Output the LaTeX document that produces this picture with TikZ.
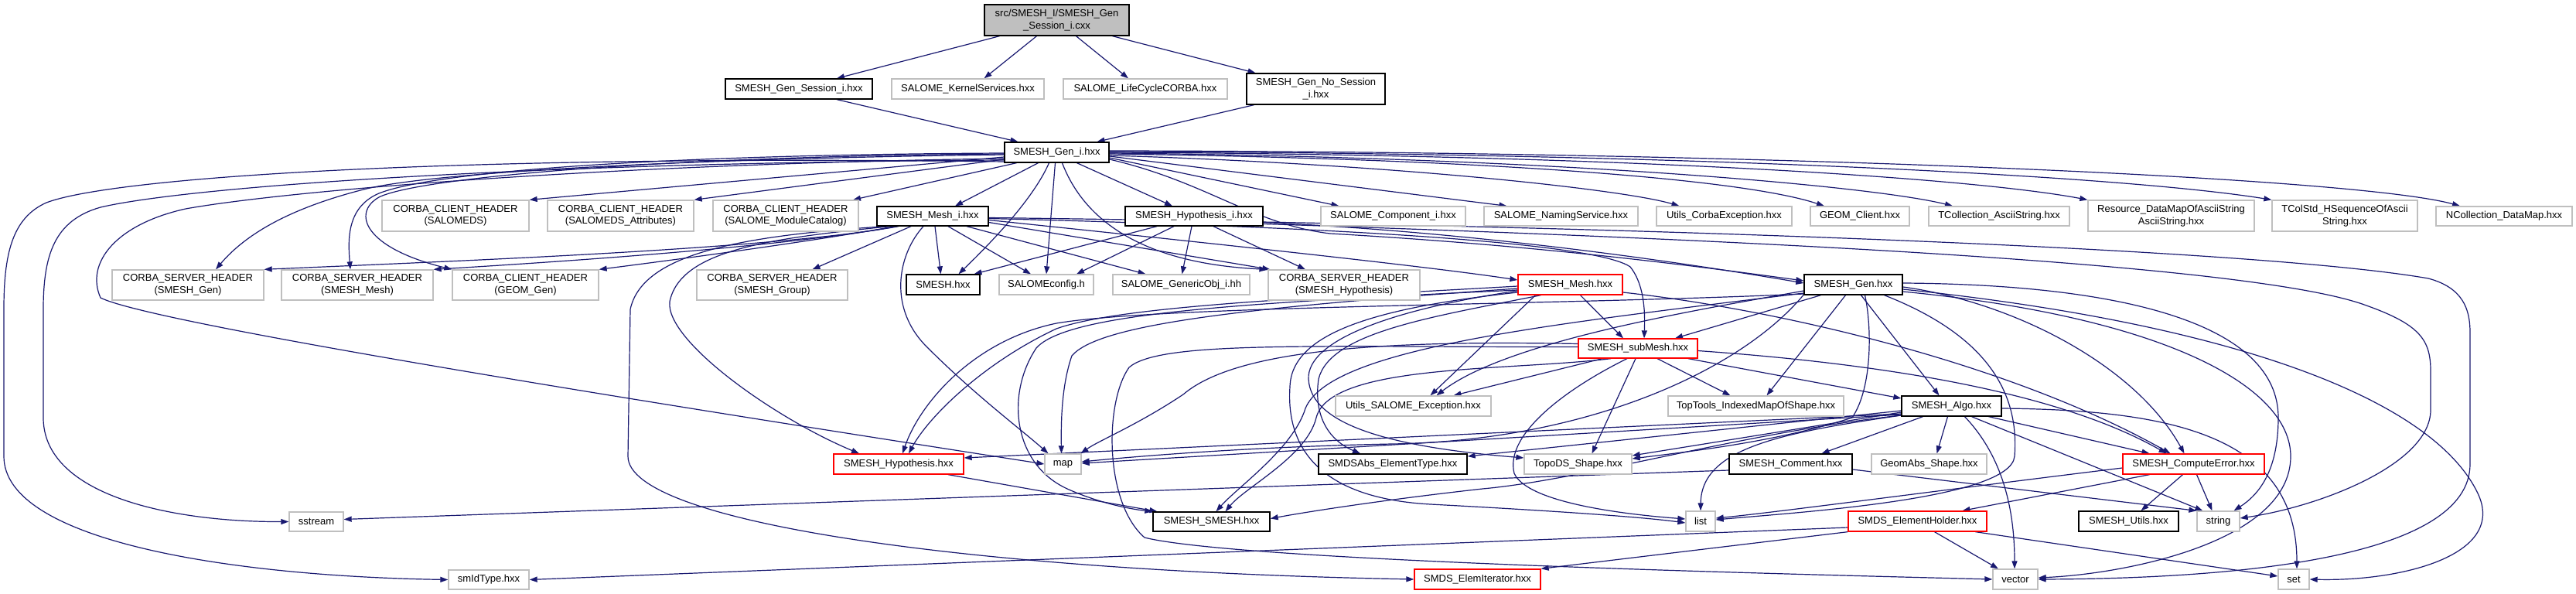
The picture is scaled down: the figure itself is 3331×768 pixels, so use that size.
\documentclass[tikz,border=0pt]{standalone}
\usepackage{fontspec}
\setmainfont{Liberation Sans}
\usetikzlibrary{arrows.meta}
\definecolor{edgec}{HTML}{191970}
\definecolor{greyb}{HTML}{BFBFBF}
\definecolor{rootfill}{HTML}{BFBFBF}
\pgfdeclarelayer{background}
\pgfsetlayers{background,main}
\begin{document}
\begin{tikzpicture}[x=1pt,y=-1pt,
  nd/.style={rectangle, inner sep=0pt, align=center, font=\fontsize{13}{15.5}\selectfont, line width=1.3pt, fill=white},
  doc/.style={nd, draw=black},
  und/.style={nd, draw=greyb},
  trunc/.style={nd, draw=red},
  e/.style={draw=edgec, line width=1.2pt, -{Triangle[length=10pt,width=7pt]}}]
\useasboundingbox (0,0) rectangle (3331,768);
% ---------------- nodes ----------------
\node[doc, fill=rootfill, minimum width=187pt, minimum height=40pt] (root) at (1366.5,26) {src/SMESH\_I/SMESH\_Gen\\\_Session\_i.cxx};
\node[doc, minimum width=190pt, minimum height=26pt] (gsess) at (1033,115) {SMESH\_Gen\_Session\_i.hxx};
\node[und, minimum width=197pt, minimum height=26pt] (kern) at (1251.5,115) {SALOME\_KernelServices.hxx};
\node[und, minimum width=212pt, minimum height=26pt] (life) at (1481,115) {SALOME\_LifeCycleCORBA.hxx};
\node[doc, minimum width=179pt, minimum height=40pt] (gnos) at (1701.5,115) {SMESH\_Gen\_No\_Session\\\_i.hxx};
\node[doc, minimum width=135pt, minimum height=26pt] (geni) at (1366.5,197) {SMESH\_Gen\_i.hxx};
\node[und, minimum width=190pt, minimum height=40pt] (cSDS) at (589,279) {CORBA\_CLIENT\_HEADER\\(SALOMEDS)};
\node[und, minimum width=189pt, minimum height=40pt] (cSDSA) at (802.5,279) {CORBA\_CLIENT\_HEADER\\(SALOMEDS\_Attributes)};
\node[und, minimum width=188pt, minimum height=40pt] (cMC) at (1016,279) {CORBA\_CLIENT\_HEADER\\(SALOME\_ModuleCatalog)};
\node[doc, minimum width=144pt, minimum height=25pt] (meshi) at (1206,279.5) {SMESH\_Mesh\_i.hxx};
\node[doc, minimum width=178pt, minimum height=25pt] (hypi) at (1544,279.5) {SMESH\_Hypothesis\_i.hxx};
\node[und, minimum width=187pt, minimum height=25pt] (comp) at (1801.5,279.5) {SALOME\_Component\_i.hxx};
\node[und, minimum width=199pt, minimum height=25pt] (naming) at (2018.5,279.5) {SALOME\_NamingService.hxx};
\node[und, minimum width=175pt, minimum height=25pt] (ucorba) at (2229.5,279.5) {Utils\_CorbaException.hxx};
\node[und, minimum width=128pt, minimum height=25pt] (geomc) at (2405,279.5) {GEOM\_Client.hxx};
\node[und, minimum width=182pt, minimum height=25pt] (tcas) at (2585,279.5) {TCollection\_AsciiString.hxx};
\node[und, minimum width=215pt, minimum height=40pt] (resdm) at (2807.5,279) {Resource\_DataMapOfAsciiString\\AsciiString.hxx};
\node[und, minimum width=188pt, minimum height=40pt] (tcolstd) at (3032,279) {TColStd\_HSequenceOfAscii\\String.hxx};
\node[und, minimum width=176pt, minimum height=25pt] (ncdm) at (3238,279.5) {NCollection\_DataMap.hxx};
\node[und, minimum width=196pt, minimum height=39pt] (sGen) at (243,368.5) {CORBA\_SERVER\_HEADER\\(SMESH\_Gen)};
\node[und, minimum width=196pt, minimum height=39pt] (sMesh) at (462,368.5) {CORBA\_SERVER\_HEADER\\(SMESH\_Mesh)};
\node[und, minimum width=189pt, minimum height=39pt] (cGeom) at (679.5,368.5) {CORBA\_CLIENT\_HEADER\\(GEOM\_Gen)};
\node[und, minimum width=195pt, minimum height=39pt] (sGroup) at (998.5,368.5) {CORBA\_SERVER\_HEADER\\(SMESH\_Group)};
\node[doc, minimum width=95pt, minimum height=26pt] (smeshh) at (1219.5,368) {SMESH.hxx};
\node[und, minimum width=122pt, minimum height=26pt] (salcfg) at (1353,368) {SALOMEconfig.h};
\node[und, minimum width=177pt, minimum height=26pt] (genobj) at (1527.5,368) {SALOME\_GenericObj\_i.hh};
\node[und, minimum width=196pt, minimum height=39pt] (sHyp) at (1738,368.5) {CORBA\_SERVER\_HEADER\\(SMESH\_Hypothesis)};
\node[trunc, minimum width=135pt, minimum height=26pt] (meshh) at (2030.5,368) {SMESH\_Mesh.hxx};
\node[doc, minimum width=127pt, minimum height=26pt] (genh) at (2396.5,368) {SMESH\_Gen.hxx};
\node[trunc, minimum width=154pt, minimum height=25pt] (submesh) at (2118,450.5) {SMESH\_subMesh.hxx};
\node[und, minimum width=201pt, minimum height=26pt] (usalexc) at (1827.5,525) {Utils\_SALOME\_Exception.hxx};
\node[und, minimum width=227pt, minimum height=26pt] (toptools) at (2270.5,525) {TopTools\_IndexedMapOfShape.hxx};
\node[doc, minimum width=129pt, minimum height=26pt] (algo) at (2523.5,525) {SMESH\_Algo.hxx};
\node[trunc, minimum width=168pt, minimum height=26pt] (hyph) at (1162,600) {SMESH\_Hypothesis.hxx};
\node[und, minimum width=47pt, minimum height=26pt] (map) at (1374.5,600) {map};
\node[doc, minimum width=192pt, minimum height=26pt] (smdsabs) at (1801,600) {SMDSAbs\_ElementType.hxx};
\node[und, minimum width=139pt, minimum height=26pt] (topods) at (2040.5,600) {TopoDS\_Shape.hxx};
\node[doc, minimum width=159pt, minimum height=26pt] (comment) at (2315.5,600) {SMESH\_Comment.hxx};
\node[und, minimum width=149pt, minimum height=26pt] (geomabs) at (2494.5,600) {GeomAbs\_Shape.hxx};
\node[trunc, minimum width=183pt, minimum height=26pt] (comperr) at (2836.5,600) {SMESH\_ComputeError.hxx};
\node[und, minimum width=70pt, minimum height=25pt] (sstream) at (409,674.5) {sstream};
\node[doc, minimum width=151pt, minimum height=25pt] (ss) at (1566.5,674.5) {SMESH\_SMESH.hxx};
\node[und, minimum width=38pt, minimum height=26pt] (list) at (2199,674) {list};
\node[trunc, minimum width=179pt, minimum height=26pt] (elholder) at (2479.5,674) {SMDS\_ElementHolder.hxx};
\node[doc, minimum width=129pt, minimum height=26pt] (smutils) at (2752.5,674) {SMESH\_Utils.hxx};
\node[und, minimum width=55pt, minimum height=26pt] (string) at (2868.5,674) {string};
\node[und, minimum width=104pt, minimum height=25pt] (smid) at (632,749.5) {smIdType.hxx};
\node[trunc, minimum width=163pt, minimum height=26pt] (eliter) at (1910.5,749) {SMDS\_ElemIterator.hxx};
\node[und, minimum width=58pt, minimum height=26pt] (vector) at (2606,749) {vector};
\node[und, minimum width=40pt, minimum height=26pt] (set) at (2966,749) {set};
% ---------------- edges ----------------
\begin{pgfonlayer}{background}
\fill[white] (0,0) rectangle (3331,768);
% root
\draw[e] ([xshift=-74]root.south) -- ([xshift=49]gsess.north);
\draw[e] ([xshift=-26]root.south) -- ([xshift=21]kern.north);
\draw[e] ([xshift=25]root.south) -- ([xshift=-22]life.north);
\draw[e] ([xshift=72]root.south) -- ([xshift=-78]gnos.north);
\draw[e] ([xshift=49]gsess.south) -- ([xshift=-50]geni.north);
\draw[e] ([xshift=-80]gnos.south) -- ([xshift=52]geni.north);
% Gen_i
\draw[e] ([yshift=-6]geni.west) -- (cSDS.north east);
\draw[e] ([yshift=-9]geni.west) -- (cSDSA.north east);
\draw[e] ([xshift=-52]geni.south) -- ([xshift=87]cMC.north);
\draw[e] ([xshift=-24]geni.south) -- ([xshift=29]meshi.north);
\draw[e] ([xshift=26]geni.south) -- ([xshift=-28]hypi.north);
\draw[e] ([yshift=-7]geni.east) -- ([xshift=-70]comp.north);
\draw[e] ([yshift=-5]geni.east) -- ([xshift=-70]naming.north);
\draw[e] ([yshift=-4]geni.east) .. controls (1800,212) and (2100,245) .. ([xshift=-58]ucorba.north);
\draw[e] ([yshift=-2]geni.east) .. controls (1900,205) and (2250,230) .. ([xshift=-46]geomc.north);
\draw[e] ([yshift=-1]geni.east) .. controls (2000,203) and (2420,240) .. ([xshift=-60]tcas.north);
\draw[e] (geni.east) .. controls (2100,200) and (2550,230) .. (resdm.north west);
\draw[e] ([yshift=1]geni.east) .. controls (2200,198) and (2750,228) .. (tcolstd.north west);
\draw[e] ([yshift=2]geni.east) .. controls (2300,196) and (3050,230) .. ([xshift=-57]ncdm.north);
\draw[e] ([yshift=-3]geni.west) .. controls (900,205) and (560,222) .. (470,245) .. controls (380,268) and (320,300) .. ([xshift=36]sGen.north);
\draw[e] ([yshift=-1]geni.west) .. controls (850,200) and (560,222) .. (490,250) .. controls (448,268) and (450,310) .. ([xshift=-9]sMesh.north);
\draw[e] ([yshift=-2]geni.west) .. controls (850,202) and (540,230) .. (490,255) .. controls (455,275) and (470,320) .. (cGeom.north west);
\draw[e] ([yshift=-8]geni.west) .. controls (800,212) and (380,245) .. (240,270) .. controls (150,290) and (110,340) .. (130,385) .. controls (200,420) and (900,530) .. (map.west);
\draw[e] ([yshift=-10]geni.west) .. controls (700,210) and (250,240) .. (130,268) .. controls (70,285) and (56,330) .. (56,400) -- (56,540) .. controls (56,640) and (220,675) .. (sstream.west);
\draw[e] ([yshift=-12]geni.west) .. controls (600,200) and (150,228) .. (60,262) .. controls (15,282) and (5,330) .. (5,400) -- (5,590) .. controls (5,700) and (300,745) .. (smid.west);
\draw[e] ([xshift=-10]geni.south) .. controls (1335,260) and (1275,320) .. ([xshift=20]smeshh.north);
\draw[e] ([xshift=-2]geni.south) -- (salcfg.north);
\draw[e] ([xshift=7]geni.south) .. controls (1400,280) and (1470,340) .. ([xshift=-1]sHyp.north west);
\draw[e] ([yshift=-9]geni.east) .. controls (1560,235) and (1620,290) .. (1720,302) .. controls (2000,318) and (2200,345) .. ([yshift=5]genh.west);
% Mesh_i
\draw[e] ([xshift=-44]meshi.south) .. controls (1000,322) and (600,337) .. (sGen.north east);
\draw[e] ([xshift=-46]meshi.south) .. controls (1020,318) and (750,337) .. (sMesh.north east);
\draw[e] ([xshift=-48]meshi.south) .. controls (1050,312) and (880,335) .. (cGeom.north east);
\draw[e] ([xshift=-28]meshi.south) -- ([xshift=52]sGroup.north);
\draw[e] ([xshift=3]meshi.south) -- ([xshift=-3]smeshh.north);
\draw[e] ([xshift=20]meshi.south) -- ([xshift=-20]salcfg.north);
\draw[e] ([xshift=44]meshi.south) -- ([xshift=-46]genobj.north);
\draw[e] ([yshift=-8]meshi.east) -- ([xshift=3]sHyp.north west);
\draw[e] ([yshift=-5]meshi.east) .. controls (1600,318) and (1850,345) .. ([yshift=6]meshh.west);
\draw[e] ([yshift=-3]meshi.east) .. controls (1700,293) and (2060,312) .. (2108,345) .. controls (2128,370) and (2127,410) .. ([xshift=8]submesh.north);
\draw[e] ([xshift=-55]meshi.south) .. controls (1000,308) and (880,322) .. (866,390) .. controls (860,440) and (1000,540) .. ([xshift=-51]hyph.north);
\draw[e] ([xshift=-12]meshi.south) .. controls (1160,330) and (1148,400) .. (1200,450) .. controls (1260,510) and (1320,555) .. ([xshift=-19]map.north);
\draw[e] ([xshift=-60]meshi.south) .. controls (950,305) and (830,330) .. (815,400) -- (812,590) .. controls (812,675) and (1250,738) .. (eliter.west);
\draw[e] ([yshift=-2]meshi.east) .. controls (2000,290) and (2900,318) .. (3140,360) .. controls (3185,372) and (3194,400) .. (3194,430) -- (3194,600) .. controls (3194,720) and (2900,748) .. (vector.east);
% Hypothesis_i
\draw[e] ([xshift=-48]hypi.south) -- ([xshift=40]smeshh.north);
\draw[e] ([xshift=-26]hypi.south) -- ([xshift=39]salcfg.north);
\draw[e] ([xshift=-3]hypi.south) -- ([xshift=1]genobj.north);
\draw[e] ([xshift=25]hypi.south) -- ([xshift=-50]sHyp.north);
\draw[e] ([yshift=-8]hypi.east) .. controls (1900,300) and (2150,335) .. ([yshift=2]genh.west);
\draw[e] ([yshift=-10]hypi.east) .. controls (2100,305) and (2900,335) .. (3060,395) .. controls (3130,420) and (3143,440) .. (3143,480) -- (3143,530) .. controls (3143,600) and (3000,655) .. ([yshift=4]string.east);
% SMESH_Mesh.hxx
\draw[e] ([xshift=13]meshh.south) -- ([xshift=-19]submesh.north);
\draw[e] ([xshift=-45]meshh.south) -- ([xshift=22]usalexc.north);
\draw[e] ([xshift=-38]meshh.south) .. controls (1850,410) and (1720,430) .. (1705,490) .. controls (1698,540) and (1720,570) .. ([xshift=-42]smdsabs.north);
\draw[e] ([yshift=-8]meshh.west) .. controls (1800,400) and (1690,440) .. (1692,490) .. controls (1695,550) and (1800,578) .. ([yshift=8]topods.west);
\draw[e] ([yshift=-10]meshh.west) .. controls (1780,398) and (1670,430) .. (1668,500) .. controls (1662,590) and (1720,645) .. (1850,652) .. controls (2000,660) and (2120,668) .. ([yshift=-2]list.west);
\draw[e] ([yshift=-2]meshh.west) .. controls (1700,385) and (1450,395) .. (1366,425) .. controls (1270,470) and (1200,540) .. ([xshift=13]hyph.north);
\draw[e] ([yshift=-5]meshh.west) .. controls (1600,398) and (1420,420) .. (1386,460) .. controls (1372,500) and (1372,550) .. ([xshift=-2]map.north);
\draw[e] ([yshift=-7]meshh.west) .. controls (1600,392) and (1380,405) .. (1340,450) .. controls (1300,510) and (1310,600) .. (1380,632) .. controls (1420,650) and (1460,658) .. (ss.north west);
\draw[e] ([yshift=-10]meshh.east) .. controls (2300,400) and (2600,470) .. ([xshift=-30]comperr.north);
% SMESH_Gen.hxx
\draw[e] ([xshift=-42]genh.south) -- ([xshift=48]submesh.north);
\draw[e] ([xshift=-10]genh.south) -- ([xshift=14]toptools.north);
\draw[e] ([xshift=10]genh.south) -- ([xshift=-16]algo.north);
\draw[e] ([yshift=-8]genh.west) .. controls (2200,400) and (1950,440) .. ([xshift=30]usalexc.north);
\draw[e] ([xshift=15]genh.south) .. controls (2420,420) and (2422,500) .. (2395,540) .. controls (2300,570) and (2200,582) .. ([yshift=7]topods.east);
\draw[e] ([yshift=-12]genh.west) .. controls (2000,395) and (1500,395) .. (1366,418) .. controls (1260,440) and (1190,520) .. ([xshift=5]hyph.north);
\draw[e] ([yshift=-13]genh.west) .. controls (2250,480) and (2050,570) .. (1800,574) .. controls (1600,578) and (1450,592) .. ([yshift=3]map.east);
\draw[e] ([yshift=-11]genh.west) .. controls (2000,420) and (1720,450) .. (1688,528) .. controls (1672,580) and (1600,630) .. ([xshift=6]ss.north);
\draw[e] ([xshift=40]genh.south) .. controls (2560,430) and (2612,500) .. (2605,590) .. controls (2600,645) and (2330,662) .. ([yshift=2]list.east);
\draw[e] ([yshift=-3]genh.east) .. controls (2600,390) and (2760,470) .. ([xshift=-12]comperr.north);
\draw[e] ([yshift=2]genh.east) .. controls (2750,368) and (2946,420) .. (2946,540) .. controls (2946,610) and (2920,640) .. ([xshift=20]string.north);
\draw[e] ([yshift=-6]genh.east) .. controls (2900,420) and (3150,520) .. (3205,640) .. controls (3240,720) and (3100,752) .. (set.east);
\draw[e] ([yshift=-9]genh.east) .. controls (2800,410) and (2962,500) .. (2962,590) .. controls (2962,700) and (2750,742) .. ([yshift=2]vector.east);
% SMESH_subMesh.hxx
\draw[e] ([xshift=-46]submesh.south) -- ([xshift=52]usalexc.north);
\draw[e] ([xshift=25]submesh.south) -- ([xshift=-33]toptools.north);
\draw[e] ([xshift=65]submesh.south) -- ([yshift=10]algo.west);
\draw[e] ([xshift=-3]submesh.south) -- ([xshift=18]topods.north);
\draw[e] ([xshift=-14]submesh.south) .. controls (2030,500) and (1945,560) .. (1958,612) .. controls (1975,650) and (2100,665) .. ([yshift=3]list.west);
\draw[e] ([yshift=-3]submesh.east) .. controls (2400,468) and (2650,500) .. ([xshift=-35]comperr.north);
\draw[e] ([xshift=-35]submesh.south) .. controls (1950,480) and (1720,470) .. (1702,540) .. controls (1690,590) and (1610,630) .. ([xshift=18]ss.north);
\draw[e] ([yshift=6]submesh.west) .. controls (1800,440) and (1600,450) .. (1530,510) .. controls (1470,550) and (1420,570) .. ([xshift=23]map.north);
\draw[e] ([yshift=2]submesh.west) .. controls (1700,449) and (1500,440) .. (1460,475) .. controls (1428,520) and (1428,650) .. (1480,695) .. controls (1600,725) and (2300,742) .. (vector.west);
% SMESH_Algo.hxx
\draw[e] ([yshift=-6]algo.west) -- ([yshift=10]smdsabs.east);
\draw[e] ([yshift=-8]algo.west) -- ([yshift=11]topods.east);
\draw[e] ([yshift=-10]algo.west) -- ([yshift=8]hyph.east);
\draw[e] ([yshift=-11]algo.west) -- ([yshift=1]map.east);
\draw[e] ([yshift=-12]algo.west) .. controls (2250,560) and (2050,620) .. (1917,632) .. controls (1800,645) and (1700,660) .. ([yshift=4]ss.east);
\draw[e] ([xshift=-37]algo.south) -- ([xshift=40]comment.north);
\draw[e] ([xshift=-5]algo.south) -- ([xshift=10]geomabs.north);
\draw[e] ([xshift=48]algo.south) -- ([xshift=-57]comperr.north);
\draw[e] ([xshift=26]algo.south) -- ([xshift=8]string.north west);
\draw[e] ([yshift=-12]algo.west) .. controls (2300,560) and (2200,580) .. (list.north);
\draw[e] ([xshift=17]algo.south) .. controls (2580,580) and (2605,640) .. ([xshift=-1]vector.north);
\draw[e] ([yshift=-3]algo.east) .. controls (2800,530) and (2970,560) .. ([xshift=4]set.north);
% others
\draw[e] ([xshift=64]hyph.south) -- ([xshift=-70]ss.north);
\draw[e] ([yshift=-8]comment.west) -- ([yshift=3]sstream.east);
\draw[e] ([yshift=-7]comment.east) -- (string.north west);
\draw[e] ([xshift=-14]comperr.south) -- ([xshift=16]smutils.north);
\draw[e] ([xshift=4]comperr.south) -- ([xshift=-8]string.north);
\draw[e] ([xshift=-57]comperr.south) -- ([xshift=58]elholder.north);
\draw[e] ([yshift=-5]comperr.west) .. controls (2500,635) and (2300,662) .. ([yshift=4]list.east);
\draw[e] ([yshift=-8]elholder.west) -- (smid.east);
\draw[e] (elholder.south west) -- (eliter.north east);
\draw[e] ([xshift=22]elholder.south) -- ([xshift=-22]vector.north);
\draw[e] ([xshift=75]elholder.south) -- ([yshift=4]set.west);
\end{pgfonlayer}
\end{tikzpicture}
\end{document}
